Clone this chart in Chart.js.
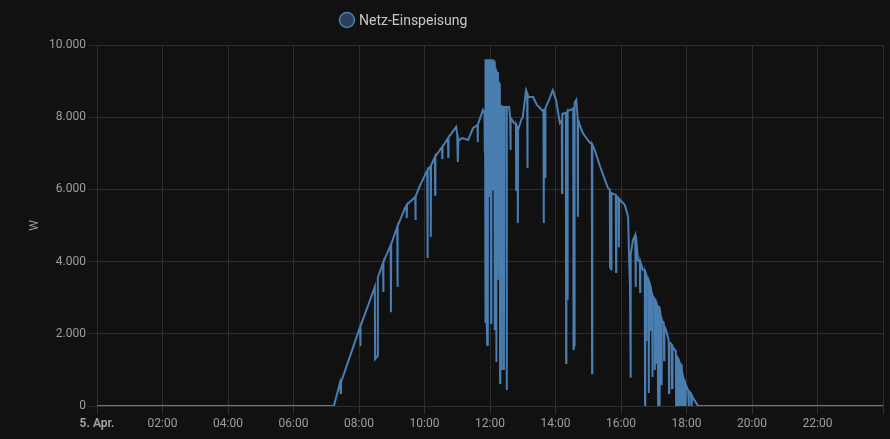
<!DOCTYPE html>
<html>
<head>
<meta charset="utf-8">
<title>Netz-Einspeisung</title>
<script src="https://cdn.jsdelivr.net/npm/chart.js@4.4.1/dist/chart.umd.min.js"></script>
<style>
  html, body { margin: 0; padding: 0; background: #111111; }
  canvas { display: block; }
</style>
</head>
<body>
<canvas id="feedChart" width="890" height="439"></canvas>
<script>
// Netz-Einspeisung, 5. April (Zeit, Watt)
const seriesName = "Netz-Einspeisung"
const xTickLabels = ["5. Apr.", "02:00", "04:00", "06:00", "08:00", "10:00", "12:00", "14:00", "16:00", "18:00", "20:00", "22:00"]
const yTickLabels = ["0", "2.000", "4.000", "6.000", "8.000", "10.000"]

const times = [
  "00:00", "07:14", "07:25", "07:26:30", "07:27",
  "08:02", "08:02:30", "08:03", "08:29", "08:29:30", "08:34", "08:34:30",
  "08:44", "08:44:30", "08:45", "08:58", "08:58:30", "08:59",
  "09:10", "09:10:30", "09:11", "09:24", "09:27", "09:27:30", "09:28",
  "09:43", "09:43:30", "09:44", "09:52",
  "10:05", "10:05:30", "10:06", "10:11", "10:11:30", "10:12",
  "10:19", "10:19:30", "10:20", "10:32", "10:32:30", "10:33",
  "10:43", "10:43:30", "10:44", "10:58", "11:00", "11:01", "11:02",
  "11:09", "11:20", "11:29", "11:37", "11:37:30", "11:38", "11:47", "11:50", "11:50:30", "11:51",
  // Wolken um 12 Uhr
  "11:51:30", "11:52", "11:53:30", "11:54", "11:55", "11:56", "11:56:30", "11:58:30", "11:59", "11:59:30",
  "12:01:30", "12:02", "12:02:30", "12:05", "12:05:30", "12:06", "12:08", "12:08:30", "12:09",
  "12:11", "12:11:30", "12:12", "12:14", "12:14:30", "12:15", "12:18", "12:18:30", "12:19",
  "12:21", "12:21:30", "12:22", "12:25", "12:25:30", "12:26", "12:30", "12:30:30", "12:31",
  "12:35", "12:37", "12:37:30", "12:38", "12:44", "12:47:30", "12:48", "12:48:30",
  "12:50:30", "12:51", "12:51:30", "12:57",
  "13:00", "13:06", "13:08", "13:08:30", "13:09", "13:11", "13:19", "13:26", "13:35",
  "13:38", "13:38:30", "13:39", "13:40:30", "13:41", "13:41:30", "13:48", "13:55",
  "14:01", "14:04", "14:08", "14:11:30", "14:12", "14:12:30", "14:19", "14:19:30", "14:20",
  "14:21:30", "14:22", "14:22:30", "14:28", "14:32:30", "14:33", "14:34:30", "14:35",
  "14:38", "14:40:30", "14:41", "14:41:30", "14:43", "14:50",
  "15:03", "15:06:30", "15:07", "15:07:30", "15:12", "15:22", "15:36", "15:39:30", "15:40",
  "15:42", "15:42:30", "15:50:30", "15:51", "15:51:30", "15:55:30", "15:56", "15:56:30", "15:58",
  "16:07", "16:13", "16:15", "16:16:30", "16:17:30", "16:18", "16:22", "16:26", "16:27", "16:27:30",
  "16:31", "16:34:30", "16:35", "16:35:30", "16:40", "16:43:30", "16:44", "16:44:30",
  "16:46", "16:46:30", "16:47",
  "16:49", "16:50:30", "16:51", "16:51:30", "16:54:30", "16:55", "16:55:30",
  "16:57", "16:57:30", "16:58", "16:59",
  "17:01:30", "17:02", "17:02:30", "17:04", "17:04:30", "17:05", "17:05:30", "17:06", "17:06:30", "17:07:30", "17:08", "17:08:30",
  "17:10", "17:10:30", "17:11", "17:13", "17:13:30", "17:14", "17:15", "17:18:30", "17:19", "17:19:30", "17:21", "17:24",
  "17:27:30", "17:28", "17:28:30", "17:30", "17:33", "17:33:30", "17:34", "17:35", "17:39", "17:40:30", "17:41", "17:41:30",
  "17:43", "17:44", "17:44:30", "17:46", "17:47", "17:47:30", "17:50", "17:51", "17:51:30",
  "17:54", "17:55", "17:55:30", "17:57", "17:58", "17:58:30", "18:03", "18:04", "18:04:30",
  "18:08", "18:09", "18:09:30", "18:14", "18:18", "18:21", "24:00"
]
const watts = [
  0, 0, 640, 360, 650,
  2190, 1660, 2210, 3300, 1300, 1390, 3560,
  3960, 3160, 3990, 4460, 2600, 4480,
  4960, 3300, 4980, 5480, 5560, 5200, 5580,
  5790, 5150, 5810, 6120,
  6520, 4100, 6540, 6640, 4680, 6660,
  6900, 5850, 6910, 7170, 6870, 7180,
  7420, 6900, 7440, 7730, 7500, 6760, 7350,
  7420, 7370, 7700, 7780, 7310, 7790, 8200, 8100, 7010, 8100,
  2300, 9580, 9580, 2300, 1690, 1800, 9580, 9580, 5790, 9550,
  9530, 2300, 9580, 9580, 6000, 9500, 9530, 2100, 9400,
  9300, 1220, 8980, 9250, 3500, 9000, 8900, 640, 8280,
  8300, 1000, 8280, 8280, 1000, 8280, 8280, 440, 8280,
  8280, 8000, 7090, 7980, 7840, 7800, 5980, 7780,
  7700, 5070, 7650, 7920,
  8000, 8750, 8670, 6590, 8620, 8560, 8560, 8340, 8200,
  8150, 5070, 8200, 8220, 6340, 8250, 8480, 8750,
  8480, 8200, 7840, 7900, 5900, 8100, 8120, 1190, 8100,
  8150, 2940, 8180, 8200, 8250, 1550, 1690, 8400,
  8480, 8000, 5240, 7900, 7840, 7560,
  7290, 7260, 910, 7240, 7090, 6620, 6040, 6000, 3850,
  3780, 5900, 5850, 3710, 5820, 5750, 4400, 5740, 5710,
  5570, 5240, 4000, 3300, 780, 4200, 4600, 4740, 3300, 4700,
  4040, 4000, 3160, 3990, 3770, 3740, 0, 3720,
  3650, 1800, 3600,
  3490, 3470, 360, 3440, 3300, 2100, 3200,
  3100, 800, 3050, 2990,
  2960, 1000, 2940, 2900, 1200, 2880, 2800, 1500, 2790, 2780, 0, 2760,
  2740, 0, 2700, 2500, 600, 2450, 2380, 2300, 1270, 2200, 2160, 2020,
  1800, 360, 1760, 1750, 1700, 500, 1680, 1630, 1550, 1500, 0, 1400,
  1360, 0, 1300, 1270, 0, 1200, 1140, 0, 1000,
  780, 0, 720, 670, 0, 600, 440, 0, 400,
  360, 0, 300, 170, 80, 0, 0
]

const lineColor = "#4a7db0"
const tickColor = "#9e9e9e"
const gridColor = "#2e2e2e"

function toHours(t) {
  const parts = t.split(":").map(Number)
  return parts[0] + parts[1] / 60 + (parts[2] || 0) / 3600
}

const points = times.map((t, i) => ({ x: toHours(t), y: watts[i] }))

// legend drawn by hand so it sits where the original has it
const simpleLegend = {
  id: "simpleLegend",
  afterDraw(chart) {
    const c = chart.ctx
    c.save()
    c.beginPath()
    c.arc(347, 20, 7.5, 0, Math.PI * 2)
    c.fillStyle = "rgba(74, 125, 176, 0.45)"
    c.fill()
    c.lineWidth = 1.5
    c.strokeStyle = lineColor
    c.stroke()
    c.font = "14px Roboto"
    c.fillStyle = "#c8c8c8"
    c.textBaseline = "middle"
    c.fillText(seriesName, 359, 21)
    c.restore()
  },
}

const ctx = document.getElementById("feedChart").getContext("2d")
const feedChart = new Chart(ctx, {
  type: "line",
  data: {
    datasets: [
      {
        label: seriesName,
        data: points,
        borderColor: lineColor,
        backgroundColor: lineColor,
        borderWidth: 2,
        pointRadius: 0,
        tension: 0,
      },
    ],
  },
  options: {
    responsive: false,
    animation: false,
    layout: {
      padding: { top: 45, right: 7, bottom: 0, left: 24 },
    },
    plugins: {
      legend: { display: false },
      tooltip: { enabled: false },
    },
    scales: {
      x: {
        type: "linear",
        min: 0,
        max: 24,
        afterFit: (scale) => {
          scale.height = 33
        },
        grid: { color: gridColor, tickLength: 8 },
        border: { color: gridColor },
        ticks: {
          stepSize: 2,
          autoSkip: false,
          maxRotation: 0,
          color: tickColor,
          font: (c) => ({
            family: "Roboto",
            size: 12,
            weight: c.tick && c.tick.value === 0 ? "bold" : "normal",
          }),
          callback: (v) => xTickLabels[v / 2] ?? "",
        },
      },
      y: {
        min: 0,
        max: 10000,
        afterFit: (scale) => {
          scale.width = 73
        },
        grid: { color: gridColor, tickLength: 8 },
        border: { color: gridColor },
        title: {
          display: true,
          text: "W",
          color: tickColor,
          font: { family: "Roboto", size: 12 },
        },
        ticks: {
          stepSize: 2000,
          color: tickColor,
          font: { family: "Roboto", size: 12 },
          callback: (v) => yTickLabels[v / 2000],
        },
      },
    },
  },
  plugins: [simpleLegend],
})
</script>
</body>
</html>
